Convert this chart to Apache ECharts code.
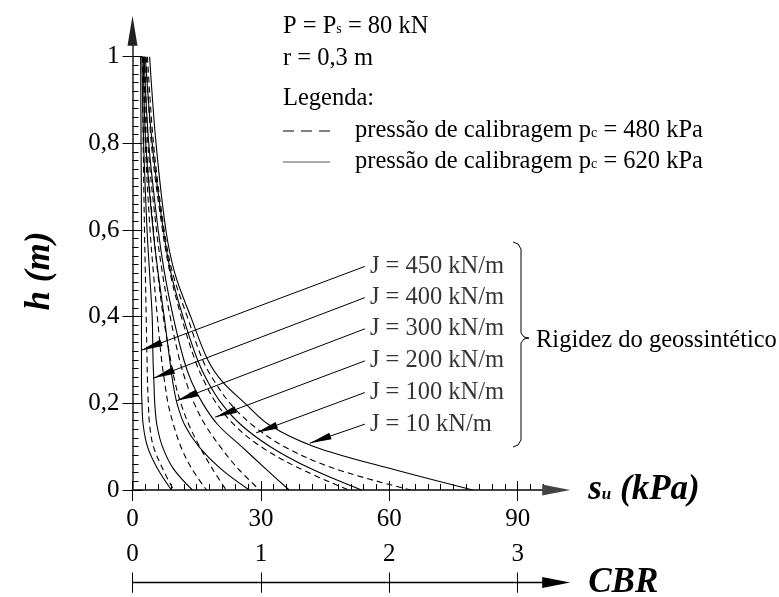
<!DOCTYPE html>
<html>
<head>
<meta charset="utf-8">
<script src="https://cdn.jsdelivr.net/npm/echarts@6/dist/echarts.min.js"></script>
<style>
  html, body { margin: 0; padding: 0; background: #fff; }
  #chart { width: 779px; height: 597px; }
</style>
</head>
<body>
<div id="chart"></div>
<script>
// alturas (h, m) onde cada curva foi lida
const hLevels = [1, 0.8, 0.6, 0.5, 0.4, 0.3, 0.25, 0.2, 0.15, 0.1, 0.05, 0]

// su (kPa) lido em cada altura - pressao de calibragem 620 kPa (linha cheia)
const su620J450 = [1.9, 2.0, 2.1, 2.1, 2.1, 2.1, 2.1, 2.2, 2.5, 3.5, 5.8, 9.1]
const su620J400 = [2.2, 2.6, 3.4, 4.0, 4.6, 4.8, 5.0, 5.2, 5.7, 7.0, 9.5, 14.0]
const su620J300 = [2.5, 3.1, 4.8, 6.0, 7.4, 8.7, 9.4, 10.4, 12.2, 15.5, 20.5, 27.3]
const su620J200 = [2.7, 3.8, 6.0, 7.5, 9.5, 12.0, 13.8, 16.4, 20.0, 25.5, 31.0, 36.6]
const su620J100 = [3.0, 4.6, 7.2, 9.0, 11.8, 15.2, 17.6, 20.8, 25.4, 32.2, 41.5, 53.5]
const su620J10 = [4.0, 5.5, 7.8, 9.9, 13.6, 17.6, 21.0, 26.3, 32.0, 42.5, 60.0, 79.5]

// pressao de calibragem 480 kPa (tracejada)
const su480J450 = [2.3, 2.5, 2.8, 3.0, 3.2, 3.4, 3.5, 3.7, 4.0, 4.9, 7.0, 9.6]
const su480J400 = [2.6, 3.0, 4.1, 4.9, 5.8, 6.8, 7.5, 8.3, 9.6, 11.3, 13.8, 17.3]
const su480J300 = [2.7, 3.2, 4.9, 5.9, 7.2, 8.9, 9.9, 11.3, 13.2, 15.7, 18.6, 21.9]
const su480J200 = [2.9, 3.6, 5.6, 7.0, 8.8, 11.0, 12.5, 14.4, 17.0, 20.5, 24.6, 29.7]
const su480J100 = [3.2, 4.4, 7.0, 8.8, 11.4, 14.6, 16.8, 19.6, 23.8, 30.0, 39.0, 50.5]
const su480J10 = [3.5, 4.9, 7.4, 9.4, 12.8, 16.4, 19.2, 22.8, 28.0, 35.5, 47.0, 65.0]

// rotulos de rigidez e pontos das setas
const jNames = ['J = 450 kN/m', 'J = 400 kN/m', 'J = 300 kN/m', 'J = 200 kN/m', 'J = 100 kN/m', 'J = 10 kN/m']
const jLabelSu = 54.3
const jLabelH = [0.516, 0.444, 0.372, 0.298, 0.225, 0.152]
const jTipSu = [1.95, 4.85, 10.3, 19.3, 28.9, 41.4]
const jTipH = [0.322, 0.258, 0.206, 0.168, 0.132, 0.108]

// eixos
const suTicks = [0, 30, 60, 90]
const suTickLabels = ['0', '30', '60', '90']
const cbrTicks = [0, 1, 2, 3]
const cbrTickLabels = ['0', '1', '2', '3']
const hTicks = [0, 0.2, 0.4, 0.6, 0.8, 1]
const hTickLabels = ['0', '0,2', '0,4', '0,6', '0,8', '1']

const FONT = 'Liberation Serif'
const TXT = '24.5px "Liberation Serif"'

const suMinor = []
for (let v = 3; v <= 96; v += 3) suMinor.push(v)
const hMinor = []
for (let k = 1; k < 50; k++) hMinor.push(Math.round(k * 2) / 100)

const curves = [
  { su: su620J450, dashed: false }, { su: su480J450, dashed: true },
  { su: su620J400, dashed: false }, { su: su480J400, dashed: true },
  { su: su620J300, dashed: false }, { su: su480J300, dashed: true },
  { su: su620J200, dashed: false }, { su: su480J200, dashed: true },
  { su: su620J100, dashed: false }, { su: su480J100, dashed: true },
  { su: su620J10, dashed: false }, { su: su480J10, dashed: true }
]

const series = curves.map(c => ({
  type: 'line',
  xAxisIndex: 0,
  yAxisIndex: 0,
  showSymbol: false,
  smooth: 0.35,
  silent: true,
  data: c.su.map((s, i) => [s, hLevels[i]]),
  lineStyle: { color: '#000', width: 1.1, type: c.dashed ? [6, 4] : 'solid' }
}))

series.push({
  type: 'scatter',
  xAxisIndex: 0,
  yAxisIndex: 0,
  symbolSize: 0,
  silent: true,
  data: jNames.map((n, i) => ({ name: n, value: [jLabelSu, jLabelH[i]] })),
  label: {
    show: true, position: 'right', distance: 5, formatter: '{b}',
    fontFamily: FONT, fontSize: 24.5, color: '#000'
  },
  markLine: {
    silent: true,
    animation: false,
    symbol: ['none', 'triangle'],
    label: { show: false },
    lineStyle: { color: '#000', width: 1, type: 'solid' },
    data: jNames.map((n, i) => [
      { coord: [jLabelSu, jLabelH[i]], symbol: 'none' },
      { coord: [jTipSu[i], jTipH[i]], symbol: 'triangle', symbolSize: [7, 22], symbolOffset: [0, 11] }
    ])
  }
})

const bi = { fontFamily: FONT, fontWeight: 'bold', fontStyle: 'italic', color: '#000' }
const tickStyle = { color: '#000', width: 1 }
const subRich = { sub: { fontSize: 14, fontFamily: FONT, verticalAlign: 'bottom', padding: [0, 0, 3, 0] } }

// eixos auxiliares so com tracos (por dentro)
function tickAxis(grid, max, values, len, pos) {
  return {
    gridIndex: grid, type: 'value', min: 0, max, position: pos,
    axisLine: { show: false, onZero: false },
    axisTick: { show: true, inside: true, customValues: values, length: len, lineStyle: tickStyle },
    axisLabel: { show: false }, splitLine: { show: false }
  }
}

const chart = echarts.init(document.getElementById('chart'))
chart.setOption({
  animation: false,
  backgroundColor: '#fff',
  grid: [
    { left: 132.5, right: 222.8, top: 30.7, bottom: 107 },
    { left: 132.5, right: 222.8, top: 582.5, height: 1 }
  ],
  xAxis: [
    {
      gridIndex: 0, type: 'value', min: 0, max: 99, position: 'bottom',
      axisLine: { show: true, onZero: false, symbol: ['none', 'triangle'], symbolSize: [11, 28], lineStyle: { color: '#444', width: 2.2 } },
      axisTick: { show: true, customValues: suTicks, length: 11, lineStyle: tickStyle },
      axisLabel: {
        customValues: suTicks, margin: 17, fontFamily: FONT, fontSize: 25, color: '#000',
        formatter: v => suTickLabels[suTicks.indexOf(v)]
      },
      splitLine: { show: false },
      name: '{s|s}{u|u}{p| (kPa)}',
      nameLocation: 'end',
      nameGap: 32,
      nameTextStyle: {
        rich: {
          s: Object.assign({ fontSize: 35 }, bi),
          u: Object.assign({ fontSize: 17, verticalAlign: 'bottom', padding: [0, 0, 4, 0] }, bi),
          p: Object.assign({ fontSize: 35 }, bi)
        }
      }
    },
    tickAxis(0, 99, suTicks, 9, 'bottom'),
    tickAxis(0, 99, suMinor, 6, 'bottom'),
    {
      gridIndex: 1, type: 'value', position: 'top', min: 0, max: 3.3,
      axisLine: { show: true, onZero: false, symbol: ['none', 'triangle'], symbolSize: [11, 28], lineStyle: { color: '#000', width: 1.3 } },
      axisTick: { show: true, customValues: cbrTicks, length: 10, lineStyle: tickStyle },
      axisLabel: {
        customValues: cbrTicks, margin: 16, fontFamily: FONT, fontSize: 25, color: '#000',
        formatter: v => cbrTickLabels[cbrTicks.indexOf(v)]
      },
      splitLine: { show: false },
      name: 'CBR',
      nameLocation: 'end',
      nameGap: 32,
      nameTextStyle: Object.assign({ fontSize: 35, verticalAlign: 'middle' }, bi)
    },
    {
      gridIndex: 1, type: 'value', position: 'bottom', min: 0, max: 3.3,
      axisLine: { show: false, onZero: false },
      axisTick: { show: true, customValues: cbrTicks, length: 10, lineStyle: tickStyle },
      axisLabel: { show: false }, splitLine: { show: false }
    }
  ],
  yAxis: [
    {
      gridIndex: 0, type: 'value', min: 0, max: 1.06, position: 'left',
      axisLine: { show: true, onZero: false, symbol: ['none', 'triangle'], symbolSize: [10, 30], lineStyle: { color: '#222', width: 1.5 } },
      axisTick: { show: true, customValues: hTicks, length: 10, lineStyle: tickStyle },
      axisLabel: {
        customValues: hTicks, margin: 13, fontFamily: FONT, fontSize: 25, color: '#000',
        formatter: v => hTickLabels[hTicks.indexOf(Math.round(v * 10) / 10)]
      },
      splitLine: { show: false }
    },
    tickAxis(0, 1.06, hTicks, 10, 'left'),
    tickAxis(0, 1.06, hMinor, 6, 'left'),
    { gridIndex: 1, type: 'value', min: 0, max: 1, show: false }
  ],
  graphic: [
    {
      type: 'text', x: 40, y: 271, rotation: Math.PI / 2,
      style: { text: 'h (m)', font: 'italic bold 35px "Liberation Serif"', fill: '#000', align: 'center', verticalAlign: 'middle' }
    },
    {
      type: 'text', x: 283, y: 27,
      style: { text: 'P = P{sub|s} = 80 kN', font: TXT, fill: '#000', verticalAlign: 'middle', rich: subRich }
    },
    {
      type: 'text', x: 283, y: 58.5,
      style: { text: 'r = 0,3 m', font: TXT, fill: '#000', verticalAlign: 'middle' }
    },
    {
      type: 'text', x: 283, y: 98.5,
      style: { text: 'Legenda:', font: TXT, fill: '#000', verticalAlign: 'middle' }
    },
    {
      type: 'line', shape: { x1: 283, y1: 131, x2: 330, y2: 131 },
      style: { stroke: '#000', lineWidth: 1, lineDash: [11, 7] }
    },
    {
      type: 'text', x: 355, y: 130.5,
      style: { text: 'pressão de calibragem p{sub|c} = 480 kPa', font: TXT, fill: '#000', verticalAlign: 'middle', rich: subRich }
    },
    {
      type: 'line', shape: { x1: 283, y1: 162, x2: 330, y2: 162 },
      style: { stroke: '#555', lineWidth: 1 }
    },
    {
      type: 'text', x: 355, y: 161.5,
      style: { text: 'pressão de calibragem p{sub|c} = 620 kPa', font: TXT, fill: '#000', verticalAlign: 'middle', rich: subRich }
    },
    {
      type: 'polyline',
      shape: { points: [[513, 242], [518, 244], [521, 249], [521, 333], [524, 337], [529, 338], [524, 339], [521, 343], [521, 440], [518, 445], [513, 447]] },
      style: { stroke: '#000', lineWidth: 1, fill: null }
    },
    {
      type: 'text', x: 536, y: 341,
      style: { text: 'Rigidez do geossintético', font: TXT, fill: '#000', verticalAlign: 'middle' }
    }
  ],
  series
})
</script>
</body>
</html>
